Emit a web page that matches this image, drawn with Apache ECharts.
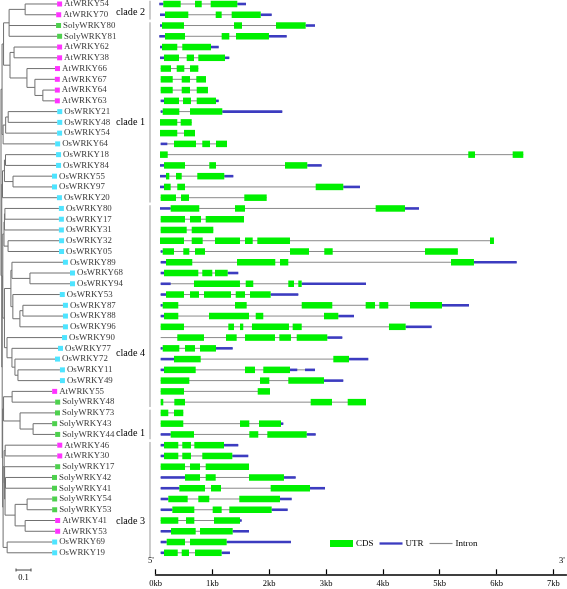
<!DOCTYPE html>
<html><head><meta charset="utf-8">
<script src="https://cdn.jsdelivr.net/npm/echarts@6/dist/echarts.min.js"></script>
<style>html,body{margin:0;padding:0;background:#fff}#c{width:567px;height:589px}</style>
</head><body><div id="c"></div>
<script>
// ---------------- DATA ----------------
const geneNames = ['AtWRKY54','AtWRKY70','SolyWRKY80','SolyWRKY81','AtWRKY62','AtWRKY38','AtWRKY66','AtWRKY67','AtWRKY64','AtWRKY63',
 'OsWRKY21','OsWRKY48','OsWRKY54','OsWRKY64','OsWRKY18','OsWRKY84','OsWRKY55','OsWRKY97','OsWRKY20','OsWRKY80',
 'OsWRKY17','OsWRKY31','OsWRKY32','OsWRKY05','OsWRKY89','OsWRKY68','OsWRKY94','OsWRKY53','OsWRKY87','OsWRKY88',
 'OsWRKY96','OsWRKY90','OsWRKY77','OsWRKY72','OsWRKY11','OsWRKY49','AtWRKY55','SolyWRKY48','SolyWRKY73','SolyWRKY43',
 'SolyWRKY44','AtWRKY46','AtWRKY30','SolyWRKY17','SolyWRKY42','SolyWRKY41','SolyWRKY54','SolyWRKY53','AtWRKY41','AtWRKY53',
 'OsWRKY69','OsWRKY19'];

const treeNewick =
 "((((((AtWRKY54:0.213,AtWRKY70:0.207):0.107,SolyWRKY80:0.313,SolyWRKY81:0.320):0.037," +
 "((AtWRKY62:0.287,AtWRKY38:0.287):0.027,(AtWRKY66:0.187,(AtWRKY67:0.133,(AtWRKY64:0.080,AtWRKY63:0.080):0.053):0.053):0.113):0.043):0.010," +
 "(((OsWRKY21:0.327,OsWRKY48:0.327):0.017,OsWRKY54:0.343):0.017,OsWRKY64:0.347):0.007):0.007," +
 "((((OsWRKY18:0.337,OsWRKY84:0.337):0.007,(OsWRKY55:0.260,OsWRKY97:0.260):0.057):0.013,OsWRKY20:0.363):0.005," +
 "(((((OsWRKY80:0.360,OsWRKY17:0.360):0.003,OsWRKY31:0.363):0.003,(OsWRKY32:0.340,OsWRKY05:0.340):0.027):0.008," +
 "(((OsWRKY89:0.340,(OsWRKY68:0.267,OsWRKY94:0.267):0.120):0.007,(OsWRKY53:0.313,((OsWRKY87:0.267,OsWRKY88:0.267):0.020,OsWRKY96:0.287):0.047):0.013):0.043," +
 "(OsWRKY90:0.367,(OsWRKY77:0.307,(OsWRKY72:0.267,(OsWRKY11:0.280,OsWRKY49:0.280):0.020):0.020):0.033):0.017):0.011):0.004," +
 "(((AtWRKY55:0.267,SolyWRKY48:0.287):0.057,(SolyWRKY73:0.233,(SolyWRKY43:0.127,SolyWRKY44:0.147):0.087):0.110):0.006," +
 "(((AtWRKY46:0.347,AtWRKY30:0.347):0.007,(SolyWRKY17:0.337,((SolyWRKY42:0.310,SolyWRKY41:0.310):0.003," +
 "((SolyWRKY54:0.167,SolyWRKY53:0.167):0.080,(AtWRKY41:0.200,AtWRKY53:0.200):0.067):0.067):0.003):0.003):0.007," +
 "(OsWRKY69:0.300,OsWRKY19:0.300):0.027):0.003):0.003):0.003):0.005);";

const cdsExons = [
 [[0.137,0.443],[0.695,0.813],[0.971,1.439]],
 [[0.167,0.577],[1.059,1.164],[1.340,1.851]],
 [[0.114,0.501],[1.381,1.522],[2.120,2.642]],
 [[0.167,0.519],[1.164,1.298],[1.416,1.996]],
 [[0.114,0.383],[0.471,0.976]],
 [[0.150,0.413],[0.549,0.677],[0.753,1.223]],
 [[0.091,0.273],[0.373,0.507],[0.607,0.753]],
 [[0.091,0.303],[0.461,0.607],[0.718,0.888]],
 [[0.091,0.303],[0.461,0.607],[0.725,0.923]],
 [[0.150,0.413],[0.484,0.624],[0.725,1.064]],
 [[0.127,0.419],[0.607,1.175]],
 [[0.079,0.383],[0.443,0.637]],
 [[0.079,0.383],[0.501,0.695]],
 [[0.325,0.712],[0.823,0.959],[1.064,1.258]],
 [[0.079,0.215],[5.502,5.620],[6.283,6.470]],
 [[0.150,0.519],[0.946,1.064],[2.278,2.670]],
 [[0.185,0.243],[0.361,0.461],[0.735,1.210]],
 [[0.150,0.267],[0.383,0.519],[2.818,3.303]],
 [[0.091,0.361],[0.449,0.589],[1.562,1.956]],
 [[0.267,0.770],[1.398,1.574],[3.873,4.389]],
 [[0.091,0.519],[0.607,0.800],[0.883,1.557]],
 [[0.091,0.549],[0.637,1.017]],
 [[0.079,0.501],[0.637,0.830],[1.047,1.486],[1.574,1.710],[1.791,2.366],[5.884,5.954]],
 [[0.127,0.325],[0.489,0.595],[0.695,0.871],[2.366,2.700],[2.969,3.117],[4.741,5.319]],
 [[0.185,0.647],[1.434,2.107],[2.190,2.336],[5.198,5.602]],
 [[0.150,0.753],[0.823,0.999],[1.047,1.270]],
 [[0.677,1.486],[1.587,1.720],[2.336,2.436],[2.512,2.572]],
 [[0.185,0.501],[0.607,0.765],[0.853,1.328],[1.411,1.574],[1.662,2.026]],
 [[0.127,0.401],[1.398,1.604],[2.572,3.110],[3.697,3.861],[3.937,4.095],[4.477,5.040]],
 [[0.150,0.401],[0.941,1.645],[1.763,1.896],[2.964,3.216]],
 [[0.091,0.501],[1.281,1.381],[1.486,1.544],[1.697,2.348],[2.413,2.572],[4.107,4.401]],
 [[0.383,0.853],[1.240,1.428],[1.574,2.102],[2.178,2.383],[2.484,3.022]],
 [[0.127,0.419],[0.519,0.695],[0.783,1.064]],
 [[0.325,0.795],[3.128,3.404]],
 [[0.150,0.707],[1.574,1.750],[1.896,2.366]],
 [[0.091,0.595],[1.838,2.002],[2.336,2.964]],
 [[0.091,0.501],[1.798,2.014]],
 [[0.091,0.137],[0.331,0.519],[2.730,3.105],[3.381,3.703]],
 [[0.091,0.225],[0.325,0.489]],
 [[0.091,0.489],[1.486,1.650],[1.821,2.208]],
 [[0.267,0.677],[1.650,1.808],[1.967,2.660]],
 [[0.150,0.401],[0.471,0.624],[0.683,1.205]],
 [[0.150,0.401],[0.471,0.624],[0.823,1.351]],
 [[0.091,0.519],[0.607,0.783],[0.883,1.645]],
 [[0.519,0.783],[0.883,1.059],[1.645,2.260]],
 [[0.419,0.871],[0.976,1.152],[2.026,2.718]],
 [[0.225,0.566],[0.753,0.946],[1.474,2.190]],
 [[0.296,0.683],[1.006,1.164],[1.298,2.044]],
 [[0.091,0.401],[0.537,0.683],[1.029,1.486]],
 [[0.273,0.707],[0.783,1.358]],
 [[0.197,0.519],[0.607,1.252]],
 [[0.150,0.391],[0.461,0.589],[0.695,1.164]]
];

const utrParts = [
 [[0.067,0.137],[1.439,1.592]],
 [[0.079,0.167],[1.851,2.044]],
 [[0.079,0.114],[2.642,2.806]],
 [[0.067,0.167],[1.996,2.308]],
 [[0.079,0.114],[0.976,1.112]],
 [[0.079,0.150],[1.223,1.298]],
 [], [], [],
 [[0.091,0.150],[1.064,1.112]],
 [[0.091,0.127],[1.175,2.230]],
 [], [],
 [[0.091,0.208]],
 [],
 [[0.079,0.150],[2.670,2.923]],
 [[0.079,0.185],[1.210,1.369]],
 [[0.079,0.150],[3.303,3.597]],
 [],
 [[0.079,0.267],[4.389,4.635]],
 [], [], [],
 [[0.091,0.127]],
 [[0.091,0.185],[5.602,6.354]],
 [[0.091,0.150],[1.270,1.456]],
 [[0.091,0.267],[2.572,3.703]],
 [[0.091,0.185],[2.026,2.512]],
 [[0.091,0.127],[5.040,5.515]],
 [[0.091,0.150],[3.216,3.492]],
 [[4.401,4.858]],
 [[3.022,3.286]],
 [[0.091,0.127],[1.064,1.358]],
 [[0.091,0.325],[3.404,3.743]],
 [[0.091,0.150],[2.366,2.494],[2.630,2.806]],
 [[2.964,3.303]],
 [], [], [],
 [[2.208,2.248]],
 [[0.091,0.267],[2.660,2.818]],
 [[0.091,0.150],[1.205,1.456]],
 [[0.091,0.150],[1.351,1.632]],
 [],
 [[0.091,0.519],[2.260,2.466]],
 [[0.091,0.419],[2.718,2.982]],
 [[0.091,0.225],[2.190,2.396]],
 [[0.091,0.296],[2.044,2.325]],
 [[1.486,1.516]],
 [[0.091,0.273],[1.358,1.645]],
 [[0.091,0.197],[1.252,2.383]],
 [[0.091,0.150],[1.164,1.310]]
];

const intronLeadIn = { OsWRKY90: 0.091 };
const kbTicks = [0, 1, 2, 3, 4, 5, 6, 7];
const cladeNames = ['clade 2', 'clade 1', 'clade 4', 'clade 1', 'clade 3'];
const cladeFirstRow = [0, 2, 19, 38, 41];
const cladeLastRow = [1, 18, 37, 40, 51];
const cladeLabelRow = [0.8, 11.0, 32.5, 39.9, 48.05];
const legendNames = ['CDS', 'UTR', 'Intron'];
const scaleBarLength = 0.1;

// ---------------- BUILD ----------------
const SERIF = '"Liberation Serif", "Times New Roman", serif';
const speciesColor = n => n.startsWith('At') ? '#ff00ff' : (n.startsWith('Os') ? '#22ddff' : '#22c422');

function parseNewick(s) {
  let i = 0;
  function node() {
    const n = { children: [] };
    if (s[i] === '(') {
      i++;
      n.children.push(node());
      while (s[i] === ',') { i++; n.children.push(node()); }
      i++;
    }
    let name = '';
    while (i < s.length && !',):;'.includes(s[i])) name += s[i++];
    n.name = name.trim();
    n.len = 0;
    if (s[i] === ':') {
      i++;
      let num = '';
      while (i < s.length && !',);'.includes(s[i])) num += s[i++];
      n.len = parseFloat(num);
    }
    return n;
  }
  return node();
}
const tree = parseNewick(treeNewick);
const segs = [];
const leaves = [];
function layout(n, px) {
  n.x = px + n.len;
  if (!n.children.length) {
    n.y = geneNames.indexOf(n.name);
    leaves.push(n);
  } else {
    n.children.forEach(c => layout(c, n.x));
    n.y = (n.children[0].y + n.children[n.children.length - 1].y) / 2;
    segs.push([n.x, n.children[0].y, n.x, n.children[n.children.length - 1].y]);
  }
  if (n.len > 0) segs.push([px, n.y, n.x, n.y]);
}
layout(tree, 0);

const cdsData = [], utrData = [], intronData = [];
geneNames.forEach((g, r) => {
  const all = cdsExons[r].concat(utrParts[r]);
  let s = Math.min(...all.map(a => a[0]));
  const e = Math.max(...all.map(a => a[1]));
  if (intronLeadIn[g] !== undefined) s = Math.min(s, intronLeadIn[g]);
  intronData.push([s, r, e]);
  cdsExons[r].forEach(a => cdsData.push([a[0], r, a[1]]));
  utrParts[r].forEach(a => utrData.push([a[0], r, a[1]]));
});

function rectRender(h, color) {
  return function (params, api) {
    const a = api.coord([api.value(0), api.value(1)]);
    const b = api.coord([api.value(2), api.value(1)]);
    return { type: 'rect', shape: { x: a[0], y: a[1] - h / 2, width: b[0] - a[0], height: h }, style: { fill: color } };
  };
}

const ROW_MIN = -0.3717, ROW_MAX = 51.67;
const yAx = gi => ({ gridIndex: gi, type: 'value', inverse: true, min: ROW_MIN, max: ROW_MAX, show: false });

const option = {
  backgroundColor: '#fff',
  animation: false,
  grid: [
    { left: 1, top: 0, width: 150, height: 560 },
    { left: 155.5, top: 0, width: 411, height: 560 }
  ],
  xAxis: [
    { gridIndex: 0, type: 'value', min: 0, max: 1, show: false },
    { gridIndex: 1, type: 'value', min: 0, max: 7.23, offset: 14.3, position: 'bottom',
      axisLine: { show: true, onZero: false, lineStyle: { color: '#000', width: 1.5 } },
      axisTick: { show: true, inside: true, length: 5, customValues: kbTicks, lineStyle: { color: '#000', width: 1.2 } },
      axisLabel: { customValues: kbTicks, formatter: v => v + 'kb', margin: 5, fontFamily: SERIF, fontSize: 8.5, color: '#000' },
      splitLine: { show: false } }
  ],
  yAxis: [yAx(0), yAx(1)],
  legend: {
    left: 330, top: 539, padding: 0, itemWidth: 23, itemHeight: 7, itemGap: 6,
    textStyle: { fontFamily: SERIF, fontSize: 9, color: '#000', padding: [0, 0, 0, -2] },
    data: [
      { name: legendNames[0], icon: 'rect' },
      { name: legendNames[1], icon: 'path://M0,0h20v2h-20z' },
      { name: legendNames[2], icon: 'path://M0,0h20v1h-20z' }
    ]
  },
  series: [
    { type: 'custom', name: 'tree', xAxisIndex: 0, yAxisIndex: 0, data: segs, silent: true,
      renderItem: (params, api) => {
        const a = api.coord([api.value(0), api.value(1)]);
        const b = api.coord([api.value(2), api.value(3)]);
        return { type: 'line', shape: { x1: a[0], y1: a[1], x2: b[0], y2: b[1] }, style: { stroke: '#707070', lineWidth: 1 } };
      } },
    { type: 'scatter', name: 'leaves', xAxisIndex: 0, yAxisIndex: 0, silent: true,
      symbol: 'rect', symbolSize: 5, symbolOffset: [2.5, 0],
      data: leaves.map(l => ({ name: l.name, value: [l.x, l.y], itemStyle: { color: speciesColor(l.name) } })),
      label: { show: true, position: 'right', distance: 2, formatter: '{b}', fontFamily: SERIF, fontSize: 8.9, color: '#000' } },
    { type: 'custom', name: 'scale', xAxisIndex: 0, yAxisIndex: 0, data: [[0.1, 0.1 + scaleBarLength]], silent: true,
      renderItem: (params, api) => {
        const a = api.coord([api.value(0), 52.6]);
        const b = api.coord([api.value(1), 52.6]);
        return { type: 'group', children: [
          { type: 'line', shape: { x1: a[0], y1: a[1], x2: b[0], y2: b[1] }, style: { stroke: '#444', lineWidth: 1 } },
          { type: 'line', shape: { x1: a[0], y1: a[1] - 1.5, x2: a[0], y2: a[1] + 1.5 }, style: { stroke: '#444', lineWidth: 1 } },
          { type: 'line', shape: { x1: b[0], y1: b[1] - 1.5, x2: b[0], y2: b[1] + 1.5 }, style: { stroke: '#444', lineWidth: 1 } },
          { type: 'text', style: { text: String(scaleBarLength), x: (a[0] + b[0]) / 2, y: a[1] + 3, align: 'center', verticalAlign: 'top', fontFamily: SERIF, fontSize: 8.5, fill: '#000' } }
        ] };
      } },
    { type: 'custom', name: 'clades', xAxisIndex: 1, yAxisIndex: 1, silent: true,
      data: cladeNames.map((c, i) => [0, cladeFirstRow[i], cladeLastRow[i], cladeLabelRow[i]]),
      renderItem: (params, api) => {
        const cs = params.coordSys;
        const y1 = api.coord([0, api.value(1) - 0.3])[1];
        const y2 = api.coord([0, api.value(2) + 0.45])[1];
        const yl = api.coord([0, api.value(3)])[1];
        const lx = cs.x - 5.5;
        return { type: 'group', children: [
          { type: 'line', shape: { x1: lx, y1: y1, x2: lx, y2: y2 }, style: { stroke: '#999', lineWidth: 1 } },
          { type: 'text', style: { text: cladeNames[params.dataIndex], x: cs.x - 39.5, y: yl, align: 'left', verticalAlign: 'middle', fontFamily: SERIF, fontSize: 10.2, fill: '#000' } }
        ] };
      } },
    { type: 'custom', name: 'Intron', xAxisIndex: 1, yAxisIndex: 1, data: intronData, itemStyle: { color: '#8a8a8a' },
      renderItem: (params, api) => {
        const a = api.coord([api.value(0), api.value(1)]);
        const b = api.coord([api.value(2), api.value(1)]);
        return { type: 'line', shape: { x1: a[0], y1: a[1], x2: b[0], y2: b[1] }, style: { stroke: '#8a8a8a', lineWidth: 1 } };
      } },
    { type: 'custom', name: 'UTR', xAxisIndex: 1, yAxisIndex: 1, data: utrData, itemStyle: { color: '#3c3cc0' },
      renderItem: rectRender(2.6, '#3c3cc0') },
    { type: 'custom', name: 'CDS', xAxisIndex: 1, yAxisIndex: 1, data: cdsData, itemStyle: { color: '#00f000' },
      renderItem: rectRender(6.5, '#00f000') }
  ],
  graphic: [
    { type: 'text', left: 148, top: 556, style: { text: "5'", fontFamily: SERIF, fontSize: 8.5, fill: '#000' } },
    { type: 'text', left: 559, top: 556, style: { text: "3'", fontFamily: SERIF, fontSize: 8.5, fill: '#000' } }
  ]
};

const chart = echarts.init(document.getElementById('c'), null, { renderer: 'canvas' });
chart.setOption(option);
</script>
</body></html>
